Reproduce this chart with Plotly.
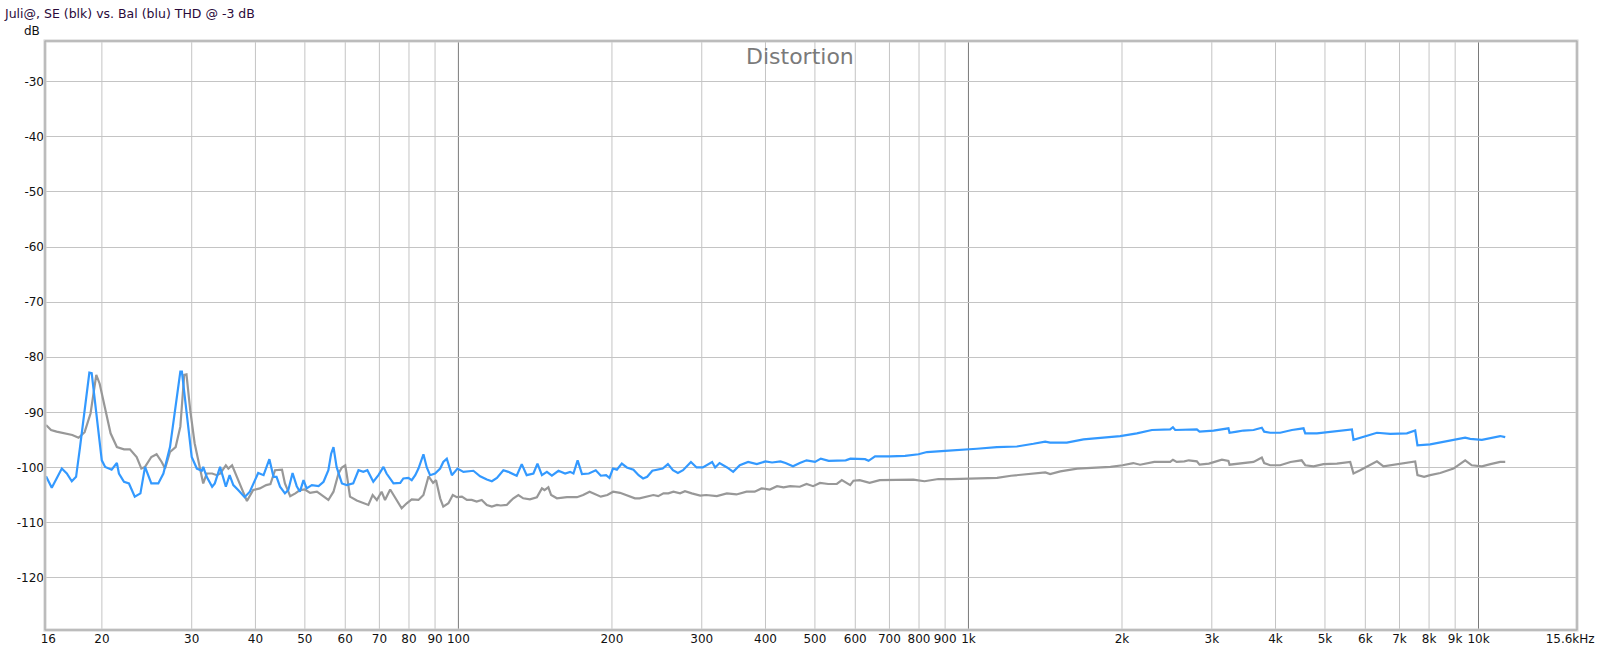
import math
import plotly.graph_objects as go

# ---------------- data ----------------
freq_blue = [15.54, 15.95, 16.69, 17.07, 17.46, 17.8, 18.12, 18.54, 18.9, 19.1, 19.54, 19.99,
             20.3, 20.9, 21.4, 21.6, 22.1, 22.6, 23.2, 23.8, 24.3, 25.0, 25.8, 26.4, 27.2, 27.9,
             28.5, 28.7, 29.4, 30.0, 30.7, 31.4, 31.6, 32.1, 32.9, 33.3, 34.1, 35.0, 35.6, 36.2,
             37.0, 38.1, 39.0, 40.5, 41.5, 42.6, 43.4, 44.0, 44.7, 45.7, 46.4, 47.3, 48.2, 48.9,
             49.7, 50.4, 51.6, 53.2, 54.4, 55.6, 56.3, 56.9, 57.7, 59.1, 60.4, 62.2, 63.7, 65.1,
             66.3, 68.1, 69.7, 71.3, 72.3, 74.6, 76.9, 78.0, 79.8, 81.0, 82.3, 83.5, 85.4, 86.7,
             88.0, 90.0, 92.1, 93.4, 94.9, 97.1, 99.6, 102.3, 107.0, 110.3, 113.7, 116.3, 119.0,
             122.5, 125.3, 128.2, 130.1, 133.1, 136.1, 140.3, 142.9, 145.8, 149.1, 152.5, 157.1,
             161.9, 165.6, 168.1, 171.3, 174.7, 180.2, 185.9, 190.2, 194.8, 197.8, 200.9, 204.5,
             209.1, 213.9, 220.4, 225.6, 230.2, 234.5, 240.0, 245.7, 251.5, 257.5, 263.4, 269.4,
             275.7, 285.7, 293.1, 301.4, 314.4, 318.7, 325.1, 336.3, 345.7, 356.2, 369.9, 384.6,
             399.9, 412.1, 428.0, 437.8, 452.9, 467.0, 481.5, 500.3, 513.5, 532.1, 552.9, 574.6,
             587, 627, 637, 656, 702, 751, 798, 829, 900, 978, 1039, 1137, 1244, 1341, 1414, 1446,
             1559, 1681, 1812, 1984, 2139, 2289, 2486, 2517, 2543, 2804, 2838, 3023, 3234, 3250,
             3360, 3461, 3622, 3760, 3800, 3905, 4085, 4307, 4539, 4574, 4822, 5195, 5647, 5688,
             5950, 6322, 6714, 7237, 7514, 7592, 8041, 8670, 9417, 9632, 10155, 11028, 11282]
db_blue = [-101.6, -103.7, -100.2, -101.1, -102.5, -101.7, -96.3, -89.3, -82.8, -82.9, -91.4, -98.7,
           -99.9, -100.4, -99.2, -101.1, -102.6, -102.9, -105.3, -104.7, -99.9, -102.9, -102.9, -101.1, -96.3, -89.0,
           -82.6, -82.6, -90.8, -98.1, -100.2, -100.6, -99.9, -101.7, -103.5, -102.9, -99.9, -103.5, -101.4, -103.2,
           -104.1, -105.4, -104.4, -101.0, -101.4, -98.5, -101.7, -101.7, -103.5, -104.7, -104.1, -101.0, -103.4, -104.4,
           -102.3, -103.8, -103.2, -103.4, -102.6, -100.5, -97.5, -96.3, -99.9, -102.9, -103.2, -102.9, -100.5, -100.8,
           -100.5, -102.6, -101.4, -99.9, -101.1, -102.9, -102.8, -102.0, -101.9, -102.3, -101.4, -100.2, -97.6, -100.0,
           -101.4, -101.1, -100.2, -99.0, -98.4, -101.4, -100.2, -100.8, -100.6, -101.6, -102.2, -102.5, -101.9,
           -100.5, -100.8, -101.2, -101.5, -99.4, -101.4, -101.1, -99.3, -101.4, -100.8, -101.5, -100.6,
           -101.1, -100.8, -101.1, -98.7, -101.2, -101.1, -100.5, -101.5, -101.4, -101.9, -100.2, -100.4,
           -99.3, -100.0, -100.4, -101.4, -102.0, -101.7, -100.6, -100.4, -100.2, -99.4, -100.5, -101.0,
           -100.5, -99.0, -100.0, -100.0, -99.0, -100.0, -99.2, -100.0, -100.8, -99.6, -99.0, -99.4,
           -98.9, -99.1, -98.9, -99.2, -99.8, -99.2, -98.7, -99.0, -98.4, -98.8, -98.8, -98.7,
           -98.4, -98.5, -98.8, -98.0, -98.0, -97.9, -97.6, -97.2, -97.0, -96.8, -96.6, -96.3, -96.2, -95.7, -95.3, -95.5,
           -95.5, -94.9, -94.6, -94.3, -93.8, -93.2, -93.1, -92.7, -93.2, -93.1, -93.5, -93.3, -92.9, -93.7,
           -93.5, -93.3, -93.2, -92.8, -93.5, -93.7, -93.7, -93.2, -92.9, -93.8, -93.8, -93.5, -93.1, -95.0,
           -94.4, -93.7, -93.9, -93.8, -93.3, -96.0, -95.8, -95.2, -94.6, -94.8, -95.0, -94.3, -94.5]

freq_gray = [15.54, 15.9, 16.3, 16.8, 17.5, 18.0, 18.5, 19.0, 19.3, 19.5, 19.8, 20.3, 20.8, 21.4,
             22.1, 22.7, 23.4, 23.9, 24.3, 25.0, 25.6, 26.2, 26.6, 27.2, 27.9, 28.5, 29.0, 29.3,
             29.8, 30.4, 31.1, 31.6, 32.1, 32.9, 33.6, 34.1, 35.0, 35.4, 36.0, 36.8, 37.6, 38.5,
             39.6, 40.8, 42.0, 42.8, 43.7, 45.1, 45.7, 46.8, 47.9, 48.9, 50.0, 51.2, 52.8, 54.0,
             55.6, 56.9, 58.2, 59.1, 60.0, 60.4, 61.3, 63.2, 65.1, 66.6, 67.9, 69.2, 70.7, 71.8,
             73.5, 75.7, 77.4, 79.2, 81.0, 83.5, 85.4, 87.4, 88.3, 89.2, 90.4, 92.1, 93.4, 95.6,
             97.5, 99.3, 101.6, 103.9, 106.2, 108.6, 111.1, 113.7, 116.3, 119.0, 121.0, 124.4,
             126.2, 128.2, 131.1, 134.0, 138.1, 142.5, 145.8, 147.5, 150.1, 152.0, 156.0, 163.2,
             170.8, 175.6, 180.8, 183.8, 190.2, 195.9, 201.1, 207.4, 215.4, 221.9, 226.5, 234.5,
             241.1, 246.5, 252.4, 258, 264.0, 272.0, 278.1, 286.8, 297.9, 306, 321.2, 336, 350.9,
             367.2, 381, 392.9, 408, 421.4, 434, 447.3, 467.0, 481.5, 496, 511.7, 531, 552, 564.6,
             586.3, 595, 612, 640, 670, 710, 757, 780, 820, 873, 925, 994, 1060, 1138, 1212, 1327,
             1415, 1446, 1514, 1634, 1758, 1898, 2005, 2104, 2170, 2314, 2486, 2517, 2560, 2650,
             2704, 2804, 2838, 2960, 3140, 3234, 3250, 3460, 3622, 3760, 3800, 3905, 4085, 4280,
             4500, 4574, 4749, 4966, 5277, 5604, 5688, 5861, 6131, 6322, 6512, 6918, 7237, 7514,
             7592, 7823, 8041, 8413, 8933, 9417, 9700, 10155, 10556, 11028, 11282]
db_gray = [-92.3, -93.2, -93.5, -93.8, -94.1, -94.6, -93.6, -90.2, -85.4, -83.2, -84.8, -89.6, -93.8, -96.3,
           -96.7, -96.7, -98.1, -100.2, -99.9, -98.1, -97.6, -99.0, -100.2, -97.2, -96.3, -92.6, -83.2, -83.1,
           -89.6, -95.6, -99.6, -102.9, -101.1, -101.1, -101.4, -101.1, -99.6, -100.2, -99.6, -101.7, -103.5, -106.1,
           -104.1, -103.8, -103.2, -103.0, -100.5, -100.4, -102.9, -105.2, -104.7, -104.1, -104.0, -104.6, -104.4, -105.0,
           -105.9, -104.4, -101.1, -100.0, -99.6, -101.2, -105.3, -106.0, -106.5, -106.8, -105.0, -105.9, -104.4, -105.9,
           -104.0, -105.9, -107.4, -106.5, -105.8, -105.9, -105.0, -101.6, -102.3, -102.8, -102.3, -105.6, -107.1, -106.5,
           -105.0, -105.4, -105.3, -105.9, -105.9, -106.2, -105.9, -106.8, -107.1, -106.8, -106.9, -106.8,
           -106.2, -105.6, -105.0, -105.6, -105.8, -105.4, -103.8, -104.1, -103.6, -105.0, -105.6, -105.4,
           -105.4, -105.0, -104.4, -104.7, -105.3, -105.0, -104.4, -104.6, -105.2, -105.6, -105.6, -105.3,
           -105.0, -105.2, -104.7, -104.7, -104.4, -104.7, -104.3, -104.7, -105.1, -105.0, -105.2, -104.7, -104.9,
           -104.4, -104.4, -103.8, -104.0, -103.4, -103.6, -103.4, -103.5, -103.0, -103.4, -102.8, -103.0, -103.0, -102.3,
           -103.2, -102.4, -102.3, -102.8, -102.3, -102.3, -102.3, -102.2, -102.5, -102.1, -102.1, -102.0, -102.0, -101.9, -101.5, -101.2,
           -100.9, -101.2, -100.7, -100.2, -100.0, -99.9, -99.6, -99.2, -99.5, -99.0, -99.0, -98.6, -99.0, -98.9,
           -98.7, -98.9, -99.5, -99.3, -98.6, -98.8, -99.5, -99.2, -99.0, -98.2, -99.2, -99.6, -99.6, -99.0,
           -98.7, -99.6, -99.8, -99.4, -99.3, -99.0, -101.1, -100.5, -99.6, -98.9, -99.8, -99.4, -99.2, -98.9,
           -101.4, -101.7, -101.4, -101.0, -100.2, -98.7, -99.6, -99.8, -99.4, -99.0, -99.0]

x_grid_minor = [20, 30, 40, 50, 60, 70, 80, 90, 200, 300, 400, 500, 600, 700, 800, 900,
                2000, 3000, 4000, 5000, 6000, 7000, 8000, 9000]
x_grid_major = [100, 1000, 10000]
x_tick_vals = [15.7, 20, 30, 40, 50, 60, 70, 80, 90, 100, 200, 300, 400, 500, 600, 700, 800, 900,
               1000, 2000, 3000, 4000, 5000, 6000, 7000, 8000, 9000, 10000, 15125]
x_tick_text = ["16", "20", "30", "40", "50", "60", "70", "80", "90", "100", "200", "300", "400",
               "500", "600", "700", "800", "900", "1k", "2k", "3k", "4k", "5k", "6k", "7k", "8k",
               "9k", "10k", "15.6kHz"]
y_tick_vals = [-30, -40, -50, -60, -70, -80, -90, -100, -110, -120]
y_tick_text = [str(v) for v in y_tick_vals]

X_MIN, X_MAX = 15.47, 15600
Y_MIN, Y_MAX = -129.5, -22.6

FONT = "DejaVu Sans"

fig = go.Figure()
fig.add_trace(go.Scatter(x=freq_gray, y=db_gray, mode="lines",
                         line=dict(color="#989898", width=2.2), name="SE", showlegend=False))
fig.add_trace(go.Scatter(x=freq_blue, y=db_blue, mode="lines",
                         line=dict(color="#3399ff", width=2.2), name="Bal", showlegend=False))

shapes = []
for v in x_grid_minor:
    shapes.append(dict(type="line", xref="x", yref="paper", x0=v, x1=v, y0=0, y1=1,
                       line=dict(color="#c4c4c4", width=1), layer="below"))
for v in x_grid_major:
    shapes.append(dict(type="line", xref="x", yref="paper", x0=v, x1=v, y0=0, y1=1,
                       line=dict(color="#7a7a7a", width=1), layer="below"))
# raised border with shadow
shapes.append(dict(type="rect", xref="paper", yref="paper", x0=0, x1=1, y0=0, y1=1,
                   line=dict(color="#d0d0d0", width=3), layer="above"))
shapes.append(dict(type="rect", xref="paper", yref="paper", x0=0, x1=1, y0=0, y1=1,
                   line=dict(color="#a8a8a8", width=1), layer="above"))

fig.update_layout(
    width=1600, height=652,
    margin=dict(l=45, r=23, t=41, b=22, autoexpand=False),
    paper_bgcolor="white", plot_bgcolor="white",
    shapes=shapes,
    xaxis=dict(type="log", range=[math.log10(X_MIN), math.log10(X_MAX)],
               tickmode="array", tickvals=x_tick_vals, ticktext=x_tick_text,
               showgrid=False, zeroline=False, ticks="", showline=False, automargin=False,
               tickfont=dict(family=FONT, size=12, color="#111111")),
    yaxis=dict(range=[Y_MIN, Y_MAX], tickmode="array", tickvals=y_tick_vals,
               ticktext=y_tick_text, showgrid=True, gridcolor="#c4c4c4", gridwidth=1,
               zeroline=False, ticks="", showline=False, automargin=False,
               tickfont=dict(family=FONT, size=12, color="#111111")),
    annotations=[
        dict(text="Juli@, SE (blk) vs. Bal (blu) THD @ -3 dB", xref="paper", yref="paper",
             x=-43 / 1532, y=1 + 27 / 589, xanchor="left", yanchor="middle", showarrow=False,
             font=dict(family=FONT, size=12.5, color="#2a0a3a")),
        dict(text="dB", xref="paper", yref="paper", x=-3 / 1532, y=1 + 10 / 589,
             xanchor="right", yanchor="middle", showarrow=False,
             font=dict(family=FONT, size=12, color="#111111")),
        dict(text="Distortion", xref="paper", yref="paper", x=(800 - 45) / 1532,
             y=1 - 15 / 589, xanchor="center", yanchor="middle", showarrow=False,
             font=dict(family=FONT, size=22, color="#7a7a7a")),
    ],
)

fig.write_html("out.html", config={"displayModeBar": False},
               post_script="document.body.style.margin='0px';")
